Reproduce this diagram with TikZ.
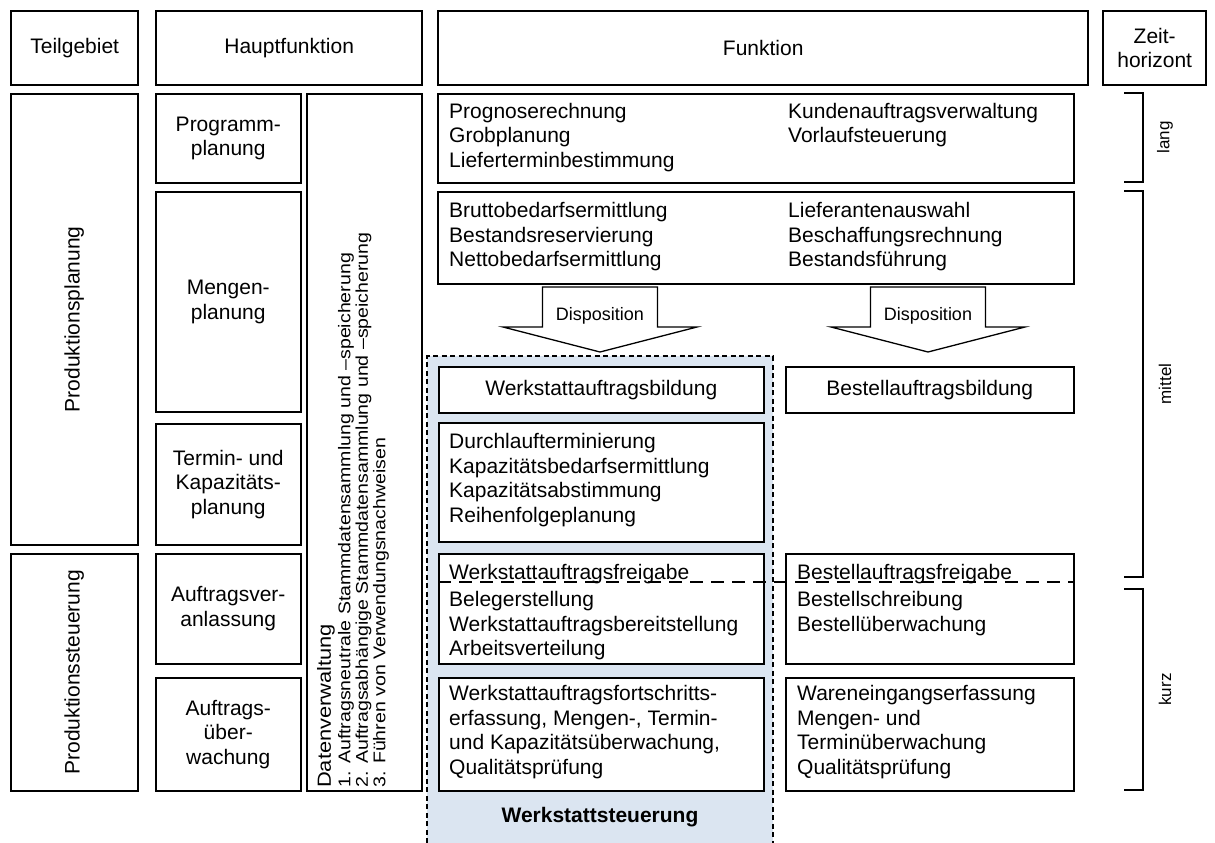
\documentclass[tikz,border=0pt]{standalone}
\usepackage{fontspec}
\setmainfont{Liberation Sans}
\usepackage{xcolor}
\usepackage{tikz}
\usetikzlibrary{positioning, calc}
\definecolor{wsblue}{HTML}{DBE5F1}
\newcommand{\fsnorm}{\fontsize{21}{24.5}\selectfont}
\newcommand{\fssmall}{\fontsize{17}{20}\selectfont}
\newcommand{\fsdaten}{\fontsize{17}{17.5}\selectfont\addfontfeature{FakeStretch=1.15}}

\begin{document}
\begin{tikzpicture}[x=1pt, y=-1pt,
  head/.style={draw, line width=2.4pt, anchor=north west, inner sep=0pt, align=center, minimum height=74pt, font=\fsnorm},
  cell/.style={draw, line width=1.5pt, fill=white, anchor=north west, inner sep=0pt, align=center, font=\fsnorm},
  ftxt/.style={inner sep=0pt, align=left, font=\fsnorm},
  vtxt/.style={rotate=90, inner sep=0pt, font=\fsnorm},
  zeit/.style={line width=1.6pt},
  zlbl/.style={rotate=90, inner sep=0pt, font=\fssmall},
]
  \useasboundingbox (0,0) rectangle (1215,843);

  % Werkstattsteuerung (background)
  \fill[wsblue] (427,356) rectangle (773,843);
  \draw[line width=1.2pt, dash pattern=on 5pt off 3.5pt] (427,843) |- (773,356) -- (773,843);
  \node[font=\bfseries\fsnorm, inner sep=0pt] (wsst) at (600,817) {Werkstattsteuerung};

  % header row
  \node[head, minimum width=127pt] (hTeil) at (10,10) {Teilgebiet};
  \node[head, minimum width=266pt] (hHaupt) at (155,10) {Hauptfunktion};
  \node[head, minimum width=650pt] (hFunk) at (437,10) {Funktion};
  \node[head, minimum width=103pt] (hZeit) at (1102,10) {Zeit-\\horizont};

  % Teilgebiet
  \node[cell, minimum width=127pt, minimum height=451pt] (pplan) at (10,93) {};
  \node[vtxt] (pplanT) at (pplan.center) {Produktionsplanung};
  \node[cell, minimum width=127pt, minimum height=237pt] (psteu) at (10,553) {};
  \node[vtxt] (psteuT) at (psteu.center) {Produktionssteuerung};

  % Hauptfunktion
  \node[cell, minimum width=145pt, minimum height=89pt] (prog) at (155,93) {Programm-\\planung};
  \node[cell, minimum width=145pt, minimum height=220pt] (meng) at (155,191) {Mengen-\\planung};
  \node[cell, minimum width=145pt, minimum height=121pt] (term) at (155,423) {Termin- und\\Kapazitäts-\\planung};
  \node[cell, minimum width=145pt, minimum height=110pt] (auftv) at (155,553) {Auftragsver-\\anlassung};
  \node[cell, minimum width=145pt, minimum height=113pt] (auftu) at (155,677) {Auftrags-\\über-\\wachung};
  \node[cell, minimum width=115pt, minimum height=697pt] (daten) at (306,93) {};
  \node[rotate=90, anchor=north west, inner sep=0pt, align=left, font=\fsdaten] (datenT) at (317,788)
    {{\fontsize{19}{19}\selectfont Datenverwaltung}\\[2pt]
     \makebox[24pt][l]{1.}Auftragsneutrale Stammdatensammlung und –speicherung\\
     \makebox[24pt][l]{2.}Auftragsabhängige Stammdatensammlung und –speicherung\\
     \makebox[24pt][l]{3.}Führen von Verwendungsnachweisen};

  % Funktion
  \node[cell, minimum width=636pt, minimum height=89pt] (progF) at (437,93) {};
  \node[ftxt, anchor=west] (progL) at (449,137.5) {Prognoserechnung\\Grobplanung\\Lieferterminbestimmung};
  \node[ftxt, anchor=north west] (progR) at (788,0 |- progL.north) {Kundenauftragsverwaltung\\Vorlaufsteuerung};
  \node[cell, minimum width=636pt, minimum height=92pt] (mengF) at (437,191) {};
  \node[ftxt, anchor=west] (mengL) at (449,237) {Bruttobedarfsermittlung\\Bestandsreservierung\\Nettobedarfsermittlung};
  \node[ftxt, anchor=north west] (mengR) at (788,0 |- mengL.north) {Lieferantenauswahl\\Beschaffungsrechnung\\Bestandsführung};

  % Disposition
  \foreach \cx/\nm in {600/dispW, 928/dispB} {
    \draw[line width=1.3pt, fill=white] (\cx-57.5,287) -- (\cx+57.5,287) -- (\cx+57.5,327) -- (\cx+97,327)
      -- (\cx,352) -- (\cx-97,327) -- (\cx-57.5,327) -- cycle;
    \node[font=\fontsize{18}{20}\selectfont, inner sep=0pt] (\nm) at (\cx,316) {Disposition};
  }

  \node[cell, minimum width=325pt, minimum height=46pt] (wsbild) at (438,366) {Werkstattauftragsbildung};
  \node[cell, minimum width=288pt, minimum height=46pt] (bestbild) at (785,366) {Bestellauftragsbildung};
  \node[cell, minimum width=325pt, minimum height=119pt] (durch) at (438,422) {};
  \node[ftxt, anchor=west] (durchT) at (449,480) {Durchlaufterminierung\\Kapazitätsbedarfsermittlung\\Kapazitätsabstimmung\\Reihenfolgeplanung};
  \node[cell, minimum width=325pt, minimum height=110pt] (wsfrei) at (438,553) {};
  \node[ftxt, anchor=north west] (wsfreiT) at (449,564) {Werkstattauftragsfreigabe\\[3pt]Belegerstellung\\Werkstattauftragsbereitstellung\\Arbeitsverteilung};
  \node[cell, minimum width=288pt, minimum height=110pt] (bestfrei) at (785,553) {};
  \node[ftxt, anchor=north west] (bestfreiT) at (797,564) {Bestellauftragsfreigabe\\[3pt]Bestellschreibung\\Bestellüberwachung};
  \draw[line width=1.3pt, dash pattern=on 13pt off 8pt] (wsfrei.west |- 0,582) -- (bestfrei.east |- 0,582);
  \node[cell, minimum width=325pt, minimum height=113pt] (wsfort) at (438,677) {};
  \node[ftxt, anchor=west] (wsfortT) at (449,732) {Werkstattauftragsfortschritts-\\erfassung, Mengen-, Termin-\\und Kapazitätsüberwachung,\\Qualitätsprüfung};
  \node[cell, minimum width=288pt, minimum height=113pt] (waren) at (785,677) {};
  \node[ftxt, anchor=west] (warenT) at (797,732) {Wareneingangserfassung\\Mengen- und\\Terminüberwachung\\Qualitätsprüfung};

  % Zeithorizont
  \draw[zeit] (1124,93) -| (1143,182) -- (1124,182);
  \node[zlbl] (zLang) at (1165,137.5) {lang};
  \draw[zeit] (1124,191) -| (1143,577) -- (1124,577);
  \node[zlbl] (zMittel) at (1165,384) {mittel};
  \draw[zeit] (1124,589) -| (1143,790) -- (1124,790);
  \node[zlbl] (zKurz) at (1165,689.5) {kurz};
\end{tikzpicture}
\end{document}
